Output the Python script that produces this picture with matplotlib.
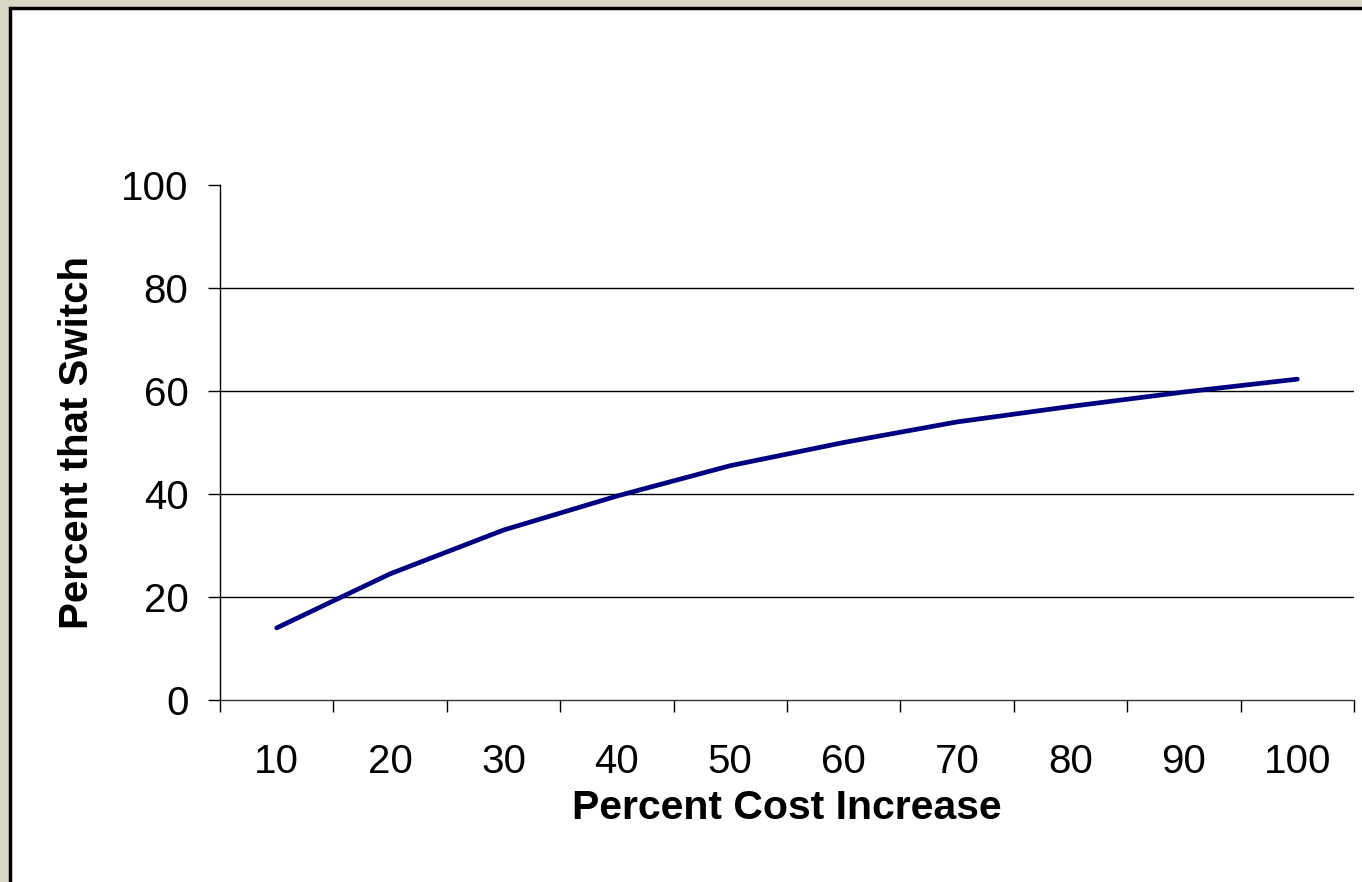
import matplotlib
matplotlib.use("Agg")
import matplotlib.pyplot as plt
from matplotlib.patches import Rectangle
import numpy as np

# cost increase categories and share of customers switching
cost_increase = ["10", "20", "30", "40", "50", "60", "70", "80", "90", "100"]
pct_switch = [14, 24.5, 33, 39.6, 45.5, 50, 54, 57, 59.8, 62.3]
y_ticks = [0, 20, 40, 60, 80, 100]

plt.rcParams['font.family'] = ['Liberation Sans', 'DejaVu Sans']

fig = plt.figure(figsize=(13.62, 8.82), dpi=100)
fig.patch.set_facecolor('#d9d7c6')

# white slide panel with dark border on the left and top
fig.patches.append(Rectangle((10 / 1362, -0.1), 1.2, 1 - 8 / 882 + 0.1,
                             transform=fig.transFigure, facecolor='white',
                             edgecolor='black', linewidth=2.5, zorder=-10))

ax = fig.add_axes([220 / 1362, 1 - 700 / 882, 1134 / 1362, 515 / 882])
ax.set_facecolor('none')

x = np.arange(len(cost_increase))
ax.plot(x, pct_switch, color='#000080', linewidth=3.4, solid_capstyle='round', zorder=3)

ax.set_xlim(-0.5, len(cost_increase) - 0.5)
ax.set_ylim(0, 100)

ax.set_xticks(x)
ax.set_xticklabels(cost_increase)
ax.set_xticks(np.arange(len(cost_increase) + 1) - 0.5, minor=True)
ax.tick_params(axis='x', which='major', length=0, pad=31, labelsize=29)
ax.tick_params(axis='x', which='minor', length=8.6, width=1, direction='out', color='black')

ax.set_yticks(y_ticks)
ax.tick_params(axis='y', length=8.6, width=1, direction='out', pad=14, labelsize=29)

ax.yaxis.grid(True, color='black', linewidth=1)
ax.get_ygridlines()[-1].set_visible(False)
ax.get_ygridlines()[0].set_visible(False)

for side in ['top', 'right']:
    ax.spines[side].set_visible(False)
ax.spines['left'].set_linewidth(1)
ax.spines['bottom'].set_linewidth(1)
ax.spines['bottom'].set_color('#333333')

ax.set_xlabel('Percent Cost Increase', fontsize=29.5, fontweight='bold', va='center')
ax.xaxis.set_label_coords(0.5, -0.21)
ax.set_ylabel('Percent that Switch', fontsize=29, fontweight='bold', va='center')
ax.yaxis.set_label_coords(-0.126, 0.5)

fig.savefig('out.png', dpi=100, facecolor=fig.get_facecolor())
